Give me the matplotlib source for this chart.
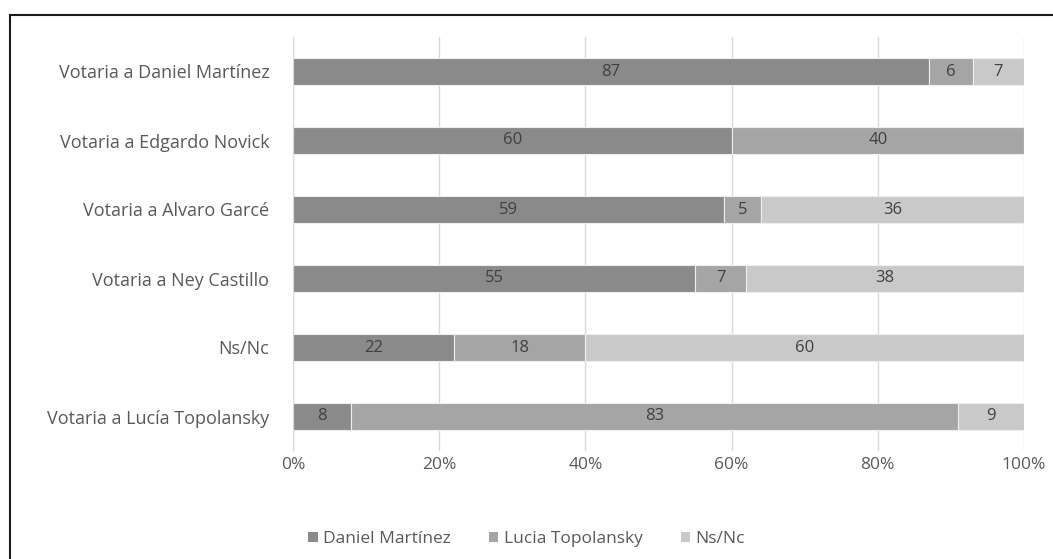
import matplotlib
matplotlib.use("Agg")
import matplotlib.pyplot as plt
from matplotlib.patches import Rectangle, Patch
import numpy as np

categories = ["Votaria a Daniel Martínez", "Votaria a Edgardo Novick", "Votaria a Alvaro Garcé",
              "Votaria a Ney Castillo", "Ns/Nc", "Votaria a Lucía Topolansky"]
series_names = ["Daniel Martínez", "Lucia Topolansky", "Ns/Nc"]
daniel = [87, 60, 59, 55, 22, 8]
lucia = [6, 40, 5, 7, 18, 83]
nsnc = [7, 0, 36, 38, 60, 9]
xticks = [0, 20, 40, 60, 80, 100]
xtick_labels = ["0%", "20%", "40%", "60%", "80%", "100%"]

colors = ["#8a8a8a", "#a5a5a5", "#c9c9c9"]
plt.rcParams['font.family'] = ['Open Sans', 'DejaVu Sans']

W, H = 1053, 559
fig = plt.figure(figsize=(W / 100, H / 100), dpi=100)
ax = fig.add_axes([293 / W, 1 - 451 / H, (1024 - 293) / W, (451 - 37) / H])

y = np.arange(len(categories))
left = np.zeros(len(categories))
for vals, col in zip([daniel, lucia, nsnc], colors):
    vals = np.array(vals, dtype=float)
    bars = ax.barh(y, vals, left=left, height=0.38, color=col, edgecolor="#eeeeee",
                   linewidth=0.8, zorder=3)
    for b, v in zip(bars, vals):
        if v > 0:
            ax.text(b.get_x() + b.get_width() / 2, b.get_y() + b.get_height() / 2, f"{int(v)}",
                    ha="center", va="center", fontsize=12, color="#404040", zorder=4)
    left += vals

ax.set_xlim(0, 100)
ax.set_ylim(len(categories) - 0.5, -0.5)
ax.set_yticks(y)
ax.set_yticklabels(categories, fontsize=13, color="#595959")
ax.set_xticks(xticks)
ax.set_xticklabels(xtick_labels, fontsize=12.5, color="#595959")
ax.tick_params(axis="both", length=0)
ax.tick_params(axis="y", pad=17)
ax.tick_params(axis="x", pad=4)
ax.grid(axis="x", color="#d9d9d9", linewidth=1, zorder=0)
for s in ["top", "right", "bottom"]:
    ax.spines[s].set_visible(False)
ax.spines["left"].set_color("#d9d9d9")
ax.spines["left"].set_zorder(5)

handles = [Patch(facecolor=c, edgecolor="none") for c in colors]
fig.legend(handles, series_names, loc="center", bbox_to_anchor=(0.5, 1 - 539 / H), ncol=3,
           frameon=False, fontsize=12.5, labelcolor="#595959", handlelength=0.55,
           handleheight=0.55, handletextpad=0.3, columnspacing=2.2)

# outer border (clipped at right/bottom)
fig.add_artist(Rectangle((9.5 / W, -0.1), 1.2, (1 - 14.5 / H) + 0.1, transform=fig.transFigure,
                         fill=False, edgecolor="#1a1a1a", linewidth=1.5))

fig.savefig("out.png", dpi=100)
